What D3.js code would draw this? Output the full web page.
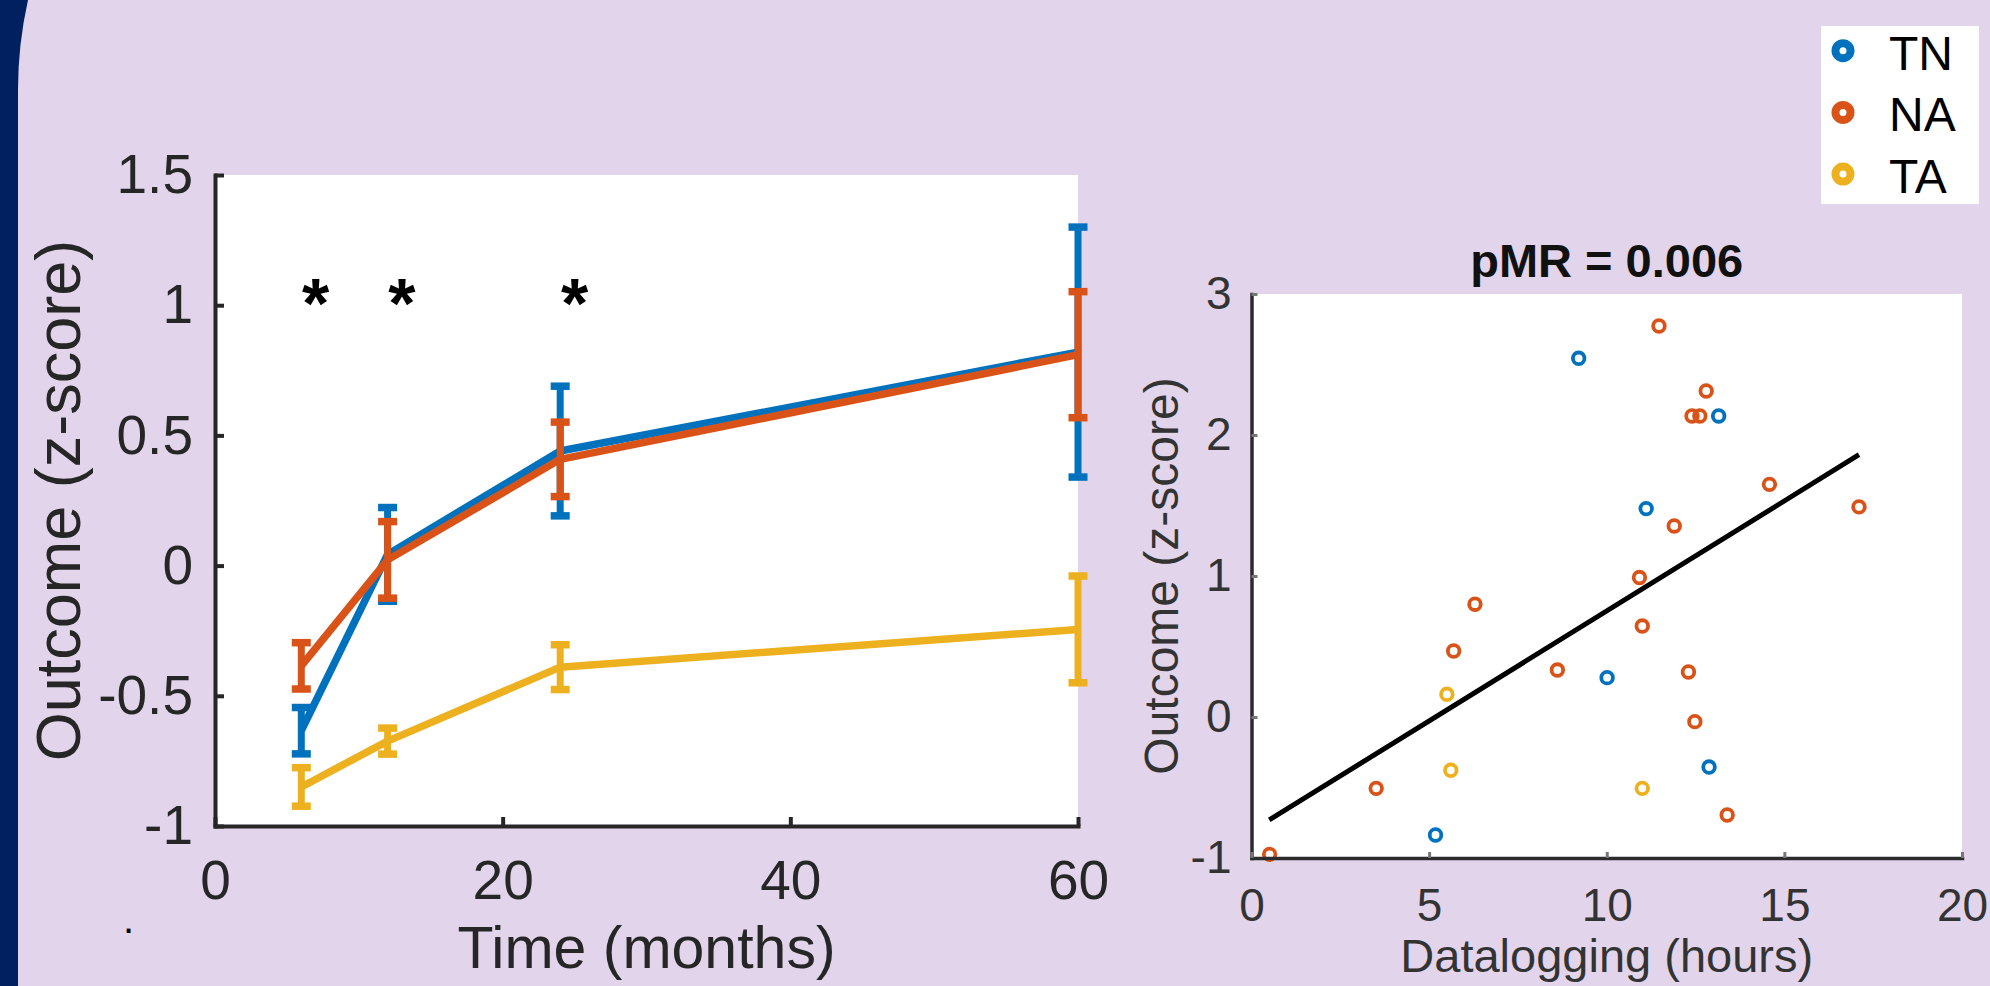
<!DOCTYPE html>
<html>
<head>
<meta charset="utf-8">
<script src="https://cdn.jsdelivr.net/npm/d3@7"></script>
<style>
  html, body { margin: 0; padding: 0; background: #E2D5EB; }
  svg { display: block; }
  text { font-family: "Liberation Sans", Arial, sans-serif; }
</style>
</head>
<body>
<script>
// ---------- Data: left panel (longitudinal outcome) ----------
const months = [6, 12, 24, 60];
const groups = ["TN", "NA", "TA"];
const tnMean = [-0.634, 0.043, 0.44, 0.82];
const tnErr  = [0.089, 0.18, 0.249, 0.48];
const naMean = [-0.385, 0.022, 0.408, 0.81];
const naErr  = [0.089, 0.147, 0.143, 0.242];
const taMean = [-0.85, -0.674, -0.39, -0.245];
const taErr  = [0.074, 0.05, 0.086, 0.205];
const starX = [7, 13, 25];
const starY = [1.08, 1.08, 1.08];
const leftYTicks = [-1, -0.5, 0, 0.5, 1, 1.5];
const leftXTicks = [0, 20, 40, 60];

// ---------- Data: right panel (datalogging scatter) ----------
const tnX = [9.21, 13.15, 11.11, 10.01, 12.88, 5.18];
const tnY = [2.544, 2.135, 1.478, 0.279, -0.355, -0.837];
const naX = [11.47, 12.80, 12.40, 12.62, 14.58, 17.10, 11.90, 10.92, 6.29, 11.00, 5.69, 8.61, 12.30, 12.48, 3.51, 13.39, 0.51];
const naY = [2.773, 2.312, 2.135, 2.135, 1.650, 1.490, 1.355, 0.989, 0.80, 0.645, 0.468, 0.333, 0.319, -0.033, -0.506, -0.695, -0.974];
const taX = [5.50, 5.61, 11.00];
const taY = [0.161, -0.378, -0.506];
const fitX = [0.5, 17.1];
const fitY = [-0.73, 1.86];
const rightYTicks = [-1, 0, 1, 2, 3];
const rightXTicks = [0, 5, 10, 15, 20];
const titleText = "pMR = 0.006";

const colors = { TN: "#0072BD", NA: "#D95319", TA: "#EDB120" };
const fmt = d => String(d);

const W = 1990, H = 986;
const svg = d3.select("body").append("svg").attr("width", W).attr("height", H);

// background
svg.append("rect").attr("width", W).attr("height", H).attr("fill", "#E2D5EB");
// navy frame edge
svg.append("path")
  .attr("d", "M0,0 L28,0 A410,410 0 0,0 18,90 L18,986 L0,986 Z")
  .attr("fill", "#00205F");

// ================= LEFT PANEL =================
const xL = d3.scaleLinear().domain([0, 60]).range([215, 1078]);
const yL = d3.scaleLinear().domain([-1, 1.5]).range([826, 175]);

svg.append("rect")
  .attr("x", xL(0)).attr("y", yL(1.5))
  .attr("width", xL(60) - xL(0)).attr("height", yL(-1) - yL(1.5))
  .attr("fill", "#ffffff");

const series = [
  { name: "TN", mean: tnMean, err: tnErr },
  { name: "NA", mean: naMean, err: naErr },
  { name: "TA", mean: taMean, err: taErr }
];

const lineGen = d3.line().x((d, i) => xL(months[i])).y(d => yL(d));
const capHalf = 9.5;
series.forEach(s => {
  const g = svg.append("g");
  g.append("path").datum(s.mean).attr("d", lineGen)
    .attr("fill", "none").attr("stroke", colors[s.name])
    .attr("stroke-width", 7.5).attr("stroke-linejoin", "round");
  months.forEach((m, i) => {
    const cx = xL(m);
    const top = yL(s.mean[i] + s.err[i]);
    const bot = yL(s.mean[i] - s.err[i]);
    g.append("line").attr("x1", cx).attr("x2", cx).attr("y1", top).attr("y2", bot)
      .attr("stroke", colors[s.name]).attr("stroke-width", 7);
    [top, bot].forEach(yy => {
      g.append("line").attr("x1", cx - capHalf).attr("x2", cx + capHalf)
        .attr("y1", yy).attr("y2", yy)
        .attr("stroke", colors[s.name]).attr("stroke-width", 7.5);
    });
  });
});

// significance stars
svg.append("g").selectAll("text").data(starX).join("text")
  .attr("x", d => xL(d))
  .attr("y", (d, i) => yL(starY[i]))
  .attr("dy", "0.62em")
  .attr("text-anchor", "middle")
  .attr("font-size", 70).attr("font-weight", "bold").attr("fill", "#000")
  .text("*");

// axes
const axL = svg.append("g").attr("transform", `translate(${xL(0)},0)`)
  .call(d3.axisLeft(yL).tickValues(leftYTicks).tickFormat(fmt).tickSizeInner(-9).tickSizeOuter(0).tickPadding(22));
const axB = svg.append("g").attr("transform", `translate(0,${yL(-1)})`)
  .call(d3.axisBottom(xL).tickValues(leftXTicks).tickFormat(fmt).tickSizeInner(-9).tickSizeOuter(0).tickPadding(34));
[axL, axB].forEach(a => {
  a.select(".domain").attr("stroke", "#262626").attr("stroke-width", 4).attr("stroke-linecap", "square");
  a.selectAll(".tick line").attr("stroke", "#262626").attr("stroke-width", 4);
  a.selectAll(".tick text").attr("font-size", 55).attr("fill", "#262626")
    .style("font-family", '"Liberation Sans", Arial, sans-serif');
});

// axis labels
svg.append("text")
  .attr("x", (xL(0) + xL(60)) / 2).attr("y", 968)
  .attr("text-anchor", "middle").attr("font-size", 59).attr("fill", "#262626")
  .text("Time (months)");
svg.append("text")
  .attr("transform", `translate(80,${(yL(-1) + yL(1.5)) / 2}) rotate(-90)`)
  .attr("text-anchor", "middle").attr("font-size", 63).attr("fill", "#262626")
  .text("Outcome (z-score)");
svg.append("text").attr("x", 123).attr("y", 933).attr("font-size", 40).attr("fill", "#000").text(".");

// ================= RIGHT PANEL =================
const xR = d3.scaleLinear().domain([0, 20]).range([1251.5, 1962]);
const yR = d3.scaleLinear().domain([-1, 3]).range([858, 294]);

svg.append("rect")
  .attr("x", xR(0)).attr("y", yR(3))
  .attr("width", xR(20) - xR(0)).attr("height", yR(-1) - yR(3))
  .attr("fill", "#ffffff");

const scatterSets = [
  { name: "TN", xs: tnX, ys: tnY },
  { name: "NA", xs: naX, ys: naY },
  { name: "TA", xs: taX, ys: taY }
];
scatterSets.forEach(s => {
  svg.append("g").selectAll("circle").data(s.xs).join("circle")
    .attr("cx", d => xR(d))
    .attr("cy", (d, i) => yR(s.ys[i]))
    .attr("r", 5.8)
    .attr("fill", "none")
    .attr("stroke", colors[s.name])
    .attr("stroke-width", 3.8);
});

// regression line
svg.append("line")
  .attr("x1", xR(fitX[0])).attr("y1", yR(fitY[0]))
  .attr("x2", xR(fitX[1])).attr("y2", yR(fitY[1]))
  .attr("stroke", "#000").attr("stroke-width", 5);

const axRL = svg.append("g").attr("transform", `translate(${xR(0)},0)`)
  .call(d3.axisLeft(yR).tickValues(rightYTicks).tickFormat(fmt).tickSizeInner(-6).tickSizeOuter(0).tickPadding(20));
const axRB = svg.append("g").attr("transform", `translate(0,${yR(-1)})`)
  .call(d3.axisBottom(xR).tickValues(rightXTicks).tickFormat(fmt).tickSizeInner(-6).tickSizeOuter(0).tickPadding(30));
[axRL, axRB].forEach(a => {
  a.select(".domain").attr("stroke", "#2b2b2b").attr("stroke-width", 3.5).attr("stroke-linecap", "square");
  a.selectAll(".tick line").attr("stroke", "#777").attr("stroke-width", 3);
  a.selectAll(".tick text").attr("font-size", 46).attr("fill", "#333")
    .style("font-family", '"Liberation Sans", Arial, sans-serif');
});

svg.append("text")
  .attr("x", (xR(0) + xR(20)) / 2).attr("y", 277)
  .attr("text-anchor", "middle").attr("font-size", 47).attr("font-weight", "bold").attr("fill", "#111")
  .text(titleText);
svg.append("text")
  .attr("x", (xR(0) + xR(20)) / 2).attr("y", 972)
  .attr("text-anchor", "middle").attr("font-size", 47).attr("fill", "#333")
  .text("Datalogging (hours)");
svg.append("text")
  .attr("transform", `translate(1178,${(yR(-1) + yR(3)) / 2}) rotate(-90)`)
  .attr("text-anchor", "middle").attr("font-size", 48).attr("fill", "#333")
  .text("Outcome (z-score)");

// ================= LEGEND =================
const leg = svg.append("g");
leg.append("rect").attr("x", 1821).attr("y", 26).attr("width", 158).attr("height", 178).attr("fill", "#fff");
groups.forEach((gname, i) => {
  const cy = 50.7 + i * 61.7;
  leg.append("circle").attr("cx", 1843).attr("cy", cy).attr("r", 7.5)
    .attr("fill", "none").attr("stroke", colors[gname]).attr("stroke-width", 8);
  leg.append("text").attr("x", 1889).attr("y", cy + 19)
    .attr("font-size", 48).attr("fill", "#000").text(gname);
});
</script>
</body>
</html>
